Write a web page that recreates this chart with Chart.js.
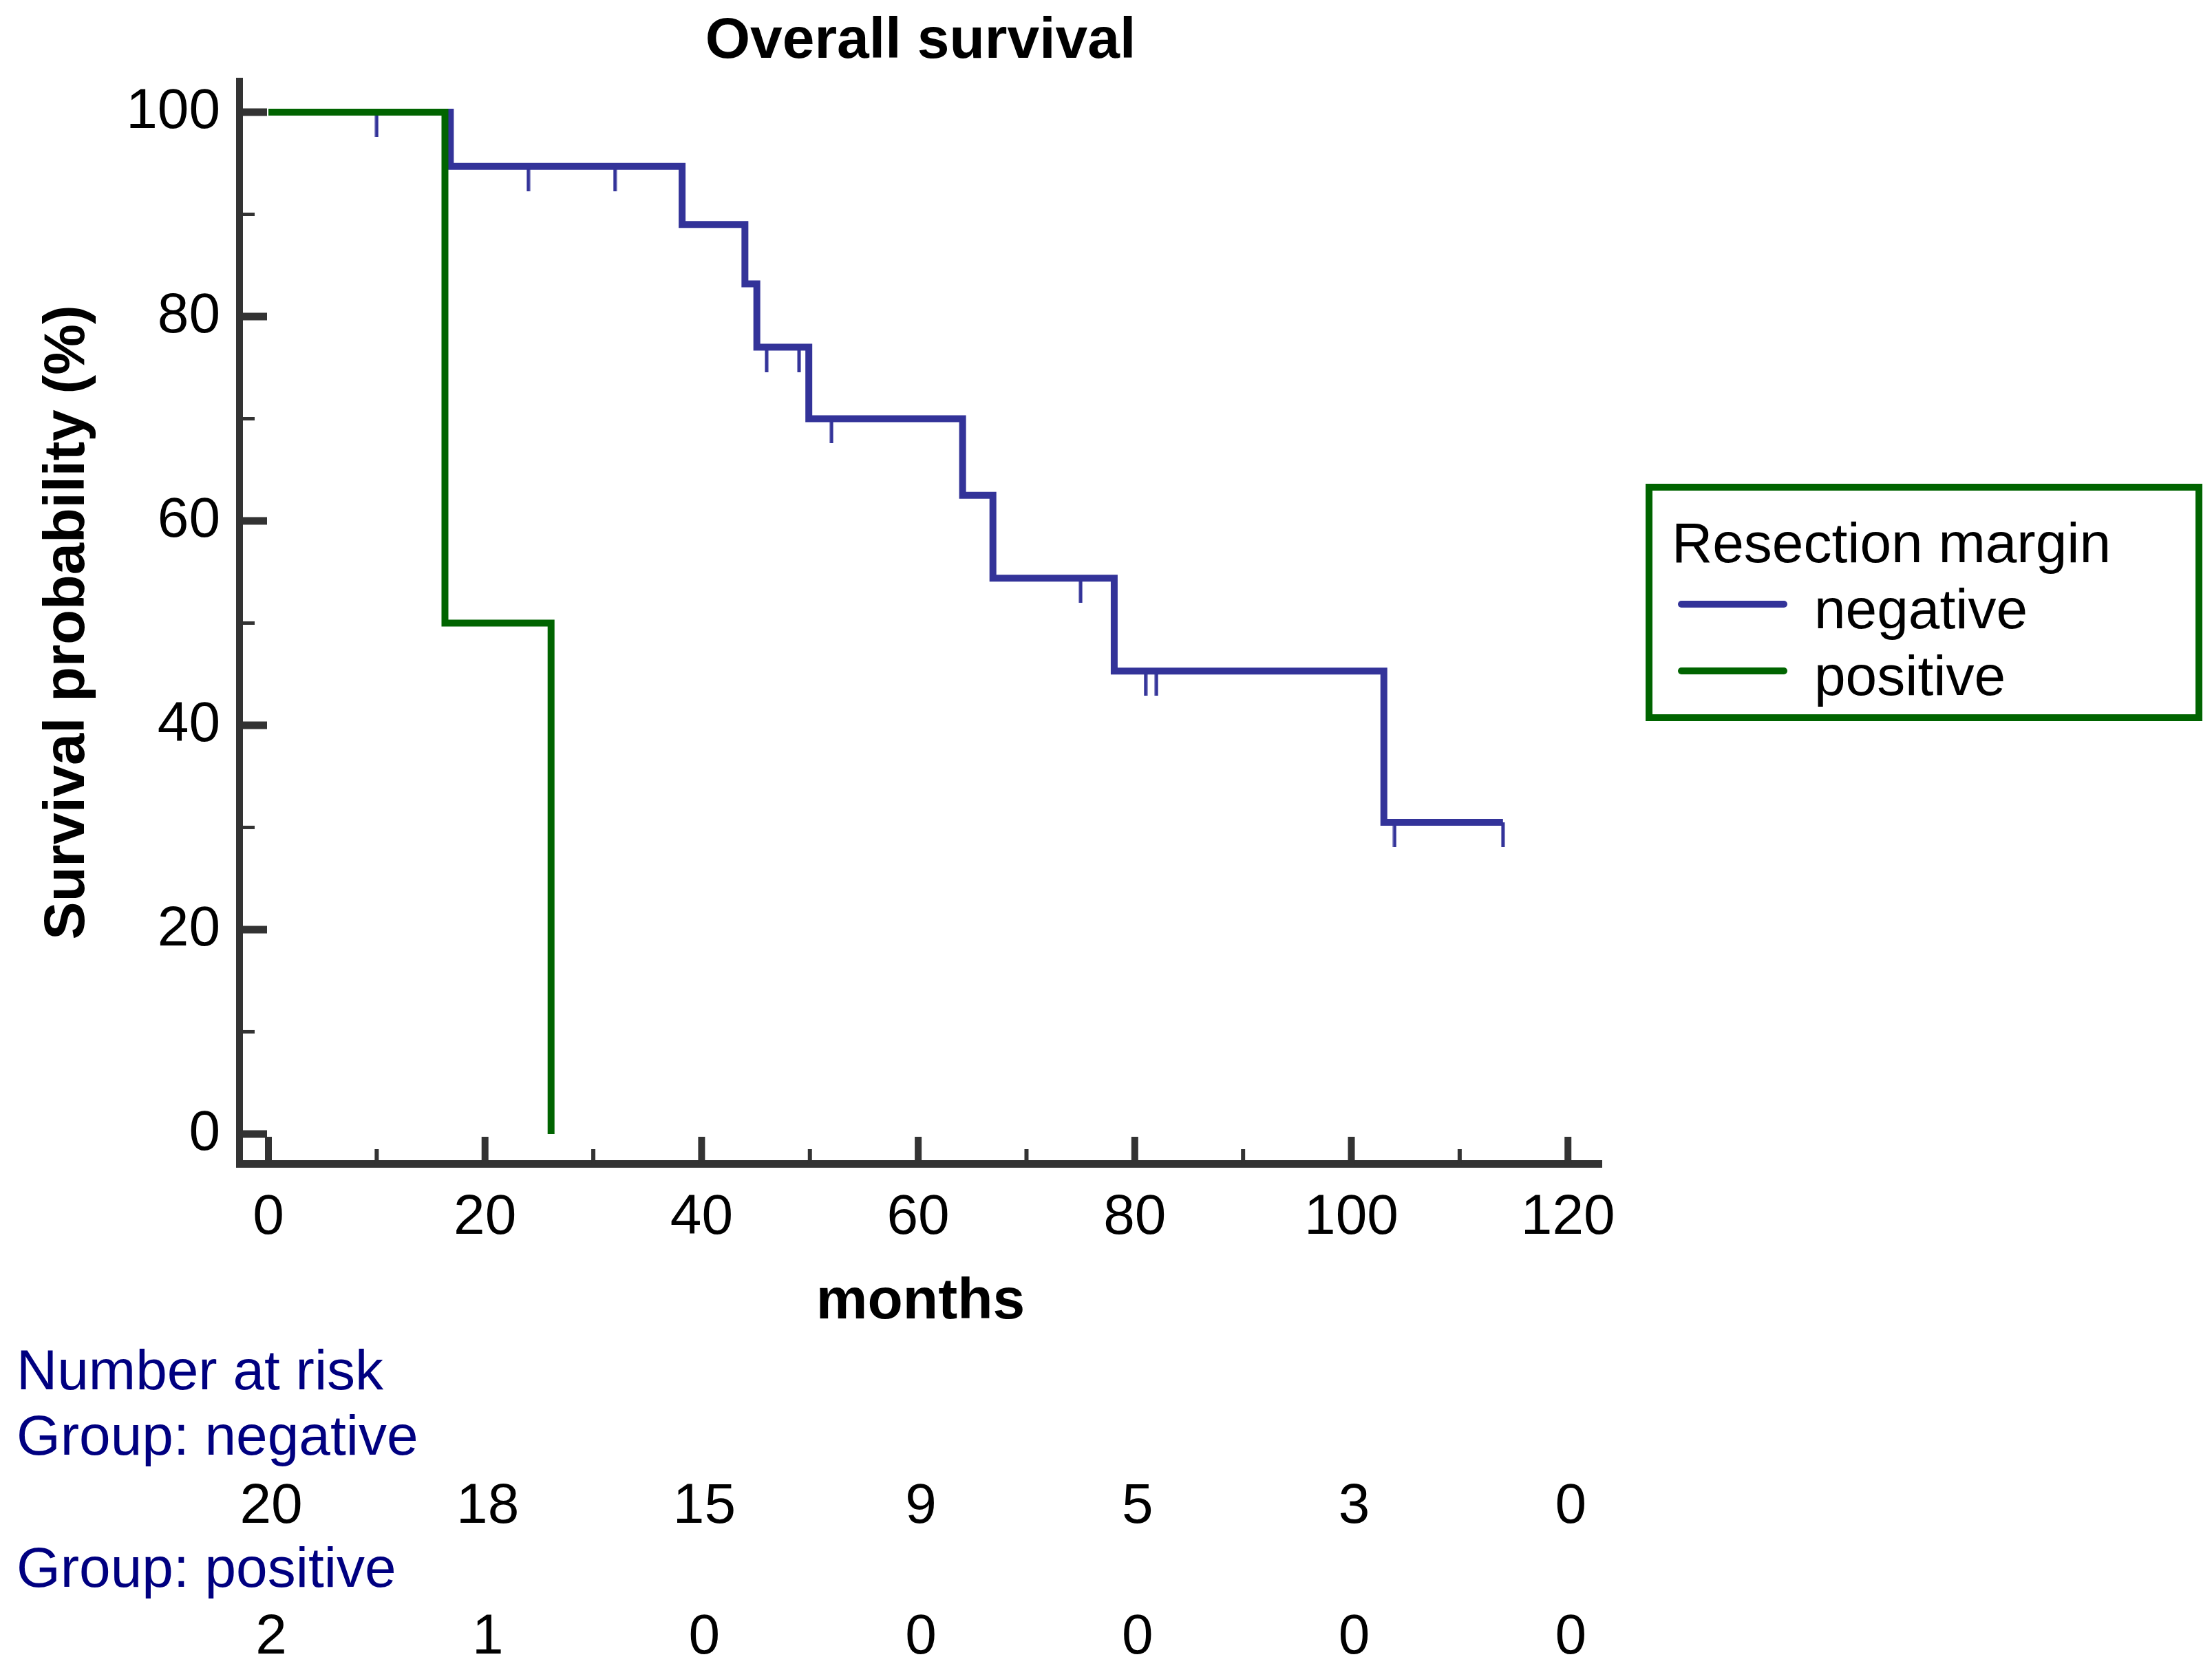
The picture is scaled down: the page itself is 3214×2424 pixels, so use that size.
<!DOCTYPE html>
<html>
<head>
<meta charset="utf-8">
<script src="https://cdn.jsdelivr.net/npm/chart.js@4.4.1/dist/chart.umd.min.js"></script>
<style>
  html, body { margin: 0; padding: 0; background: #ffffff; }
  #c { display: block; }
</style>
</head>
<body>
<canvas id="c" width="3214" height="2424" style="width:3214px;height:2424px"></canvas>
<script>
// ---------------- data ----------------
const chartTitle = "Overall survival";
const xTitle = "months";
const yTitle = "Survival probability (%)";
const legendTitle = "Resection margin";
const groupNames = ["negative", "positive"];

// Kaplan-Meier step points (time in months, survival in %)
const negTimes = [0, 16.8, 38.2, 44.0, 45.1, 49.9, 64.1, 66.9, 78.1, 103.0, 114.0];
const negSurv  = [100, 94.7, 89.0, 83.2, 77.0, 70.0, 62.5, 54.4, 45.3, 30.5, 30.5];
const posTimes = [0, 16.3, 26.1];
const posSurv  = [100, 50, 0];

// censored observations (negative group)
const negCensorTimes = [10, 24, 32, 46, 49, 52, 75, 81, 82, 104, 114];
const negCensorSurv  = [100, 94.7, 94.7, 77.0, 77.0, 70.0, 54.4, 45.3, 45.3, 30.5, 30.5];

// axis ticks
const xMajorTicks = [0, 20, 40, 60, 80, 100, 120];
const xMinorTicks = [10, 30, 50, 70, 90, 110];
const yMajorTicks = [0, 20, 40, 60, 80, 100];
const yMinorTicks = [10, 30, 50, 70, 90];

// number at risk
const riskTimes = [0, 20, 40, 60, 80, 100, 120];
const riskNeg = [20, 18, 15, 9, 5, 3, 0];
const riskPos = [2, 1, 0, 0, 0, 0, 0];

// ---------------- styles ----------------
const BLUE = "#333399";
const GREEN = "#006400";
const AXIS = "#333333";
const NAVY = "#000080";
const FONT = "'Liberation Sans', Arial, Helvetica, sans-serif";
const FS = 82;      // regular text
const FSB = 84;     // bold text

const toXY = (xs, ys) => xs.map((x, i) => ({ x: x, y: ys[i] }));

// censor tick marker: a short vertical line hanging below the point
function makeCensorMark(color) {
  const c = document.createElement('canvas');
  c.width = 6; c.height = 72;
  const g = c.getContext('2d');
  g.fillStyle = color;
  g.fillRect(0.5, 36, 5, 36);
  return c;
}
const censorMark = makeCensorMark(BLUE);

const decorPlugin = {
  id: 'decor',
  beforeDatasetsDraw(chart) {
    const ctx = chart.ctx;
    const xs = chart.scales.x, ys = chart.scales.y;
    const ca = chart.chartArea;
    ctx.save();
    ctx.strokeStyle = AXIS;
    ctx.lineCap = 'butt';
    const drawX = (vals, len, w) => {
      ctx.lineWidth = w;
      vals.forEach(v => {
        const px = xs.getPixelForValue(v);
        ctx.beginPath();
        ctx.moveTo(px, ca.bottom);
        ctx.lineTo(px, ca.bottom - len);
        ctx.stroke();
      });
    };
    drawX(xMajorTicks, 39, 10);
    drawX(xMinorTicks, 21, 6);
    const drawY = (vals, len, w) => {
      ctx.lineWidth = w;
      vals.forEach(v => {
        const py = ys.getPixelForValue(v);
        ctx.beginPath();
        ctx.moveTo(ca.left, py);
        ctx.lineTo(ca.left + len, py);
        ctx.stroke();
      });
    };
    drawY(yMajorTicks, 40, 11);
    drawY(yMinorTicks, 22, 5);
    ctx.restore();
  },
  afterDraw(chart) {
    const ctx = chart.ctx;
    const xs = chart.scales.x;
    const ca = chart.chartArea;
    const cx = (ca.left + ca.right) / 2;
    ctx.save();
    ctx.textBaseline = 'alphabetic';

    // title
    ctx.fillStyle = '#000';
    ctx.font = `bold ${FSB}px ${FONT}`;
    ctx.textAlign = 'center';
    ctx.fillText(chartTitle, cx, 84);

    // x title
    ctx.fillText(xTitle, cx, 1916);

    // y title
    ctx.save();
    ctx.translate(122, (ca.top + ca.bottom) / 2);
    ctx.rotate(-Math.PI / 2);
    ctx.textAlign = 'center';
    ctx.font = `bold 83px ${FONT}`;
    ctx.fillText(yTitle, 0, 0);
    ctx.restore();

    // legend box
    ctx.strokeStyle = GREEN;
    ctx.lineWidth = 10;
    ctx.strokeRect(2396, 708, 799, 335);
    ctx.font = `${FS}px ${FONT}`;
    ctx.textAlign = 'left';
    ctx.fillStyle = '#000';
    ctx.fillText(legendTitle, 2429, 817);
    const ds = chart.data.datasets;
    const rows = [{ y: 878, base: 913 }, { y: 975, base: 1010 }];
    [0, 1].forEach(i => {
      ctx.strokeStyle = ds[i].borderColor;
      ctx.lineWidth = 10;
      ctx.lineCap = 'round';
      ctx.beginPath();
      ctx.moveTo(2443, rows[i].y);
      ctx.lineTo(2592, rows[i].y);
      ctx.stroke();
      ctx.fillStyle = '#000';
      ctx.fillText(ds[i].label, 2636, rows[i].base);
    });

    // number at risk table
    ctx.fillStyle = NAVY;
    ctx.textAlign = 'left';
    ctx.fillText('Number at risk', 24, 2019);
    ctx.fillText('Group: ' + groupNames[0], 24, 2114);
    ctx.fillText('Group: ' + groupNames[1], 24, 2306);
    ctx.fillStyle = '#000';
    ctx.textAlign = 'center';
    riskTimes.forEach((t, i) => {
      const px = xs.getPixelForValue(t) + 4;
      ctx.fillText(String(riskNeg[i]), px, 2213);
      ctx.fillText(String(riskPos[i]), px, 2403);
    });
    ctx.restore();
  }
};

new Chart(document.getElementById('c'), {
  type: 'line',
  data: {
    datasets: [
      {
        label: groupNames[0],
        data: toXY(negTimes, negSurv),
        borderColor: BLUE,
        backgroundColor: BLUE,
        borderWidth: 10,
        stepped: 'before',
        pointRadius: 0,
        fill: false,
        order: 2
      },
      {
        label: groupNames[1],
        data: toXY(posTimes, posSurv),
        borderColor: GREEN,
        backgroundColor: GREEN,
        borderWidth: 10,
        stepped: 'before',
        pointRadius: 0,
        fill: false,
        order: 1
      },
      {
        label: 'censored',
        data: toXY(negCensorTimes, negCensorSurv),
        showLine: false,
        pointStyle: censorMark,
        pointRadius: 10,
        borderColor: BLUE,
        backgroundColor: BLUE,
        order: 3
      }
    ]
  },
  options: {
    responsive: false,
    devicePixelRatio: 1,
    animation: false,
    events: [],
    layout: { padding: { left: 0, top: 118, right: 887, bottom: 573 } },
    plugins: {
      legend: { display: false },
      title: { display: false },
      tooltip: { enabled: false }
    },
    scales: {
      x: {
        type: 'linear',
        min: -2.67,
        max: 123.1,
        afterFit(scale) { scale.height = 160; },
        afterBuildTicks(scale) { scale.ticks = xMajorTicks.map(v => ({ value: v })); },
        grid: { display: false, drawTicks: false },
        border: { display: true, color: AXIS, width: 11 },
        ticks: {
          color: '#000',
          padding: 30,
          maxRotation: 0,
          autoSkip: false,
          font: { family: FONT, size: FS }
        }
      },
      y: {
        type: 'linear',
        min: -2.9,
        max: 103.03,
        afterFit(scale) { scale.width = 348; },
        afterBuildTicks(scale) { scale.ticks = yMajorTicks.map(v => ({ value: v })); },
        grid: { display: false, drawTicks: false },
        border: { display: true, color: AXIS, width: 10 },
        ticks: {
          color: '#000',
          padding: 28,
          autoSkip: false,
          font: { family: FONT, size: FS }
        }
      }
    }
  },
  plugins: [decorPlugin]
});
</script>
</body>
</html>
